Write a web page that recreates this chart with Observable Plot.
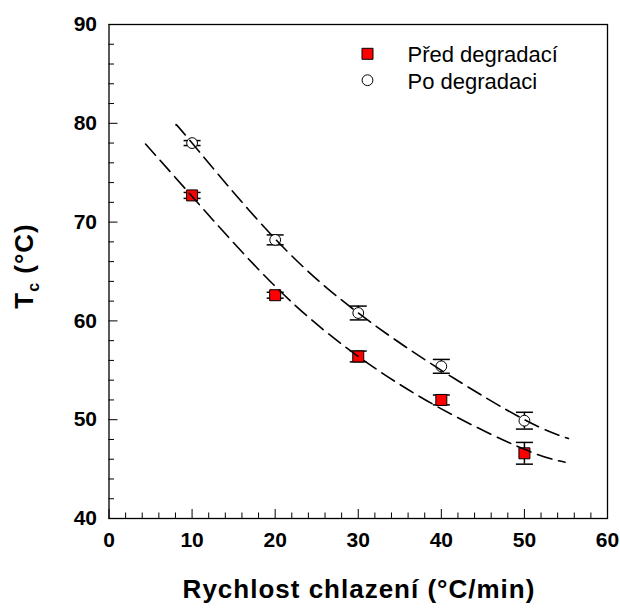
<!DOCTYPE html>
<html><head><meta charset="utf-8">
<script src="https://cdn.jsdelivr.net/npm/d3@7"></script>
<script src="https://cdn.jsdelivr.net/npm/@observablehq/plot@0.6"></script>
<style>body{margin:0;background:#fff} svg{display:block}</style>
</head><body><div id="chart"></div>
<script>
// Data
const seriesNames = ["Před degradací", "Po degradaci"];
const rates = [10, 20, 30, 40, 50];
const tcBefore = [72.7, 62.6, 56.4, 52.0, 46.6];
const errBefore = [0.3, 0.3, 0.55, 0.5, 1.1];
const tcAfter = [78.0, 68.2, 60.8, 55.4, 49.9];
const errAfter = [0.25, 0.5, 0.7, 0.7, 0.85];
const fitBeforeX = [4.4, 10, 20, 30, 40, 50, 54.9];
const fitBeforeY = [77.9, 72.6, 63.5, 56.4, 51.1, 47.0, 45.7];
const fitAfterX = [8.1, 10, 20, 30, 40, 50, 55.3];
const fitAfterY = [79.8, 78.0, 68.3, 60.8, 55.0, 50.0, 48.1];
const xMajor = [0, 10, 20, 30, 40, 50, 60];
const xMinor = [2, 4, 6, 8, 12, 14, 16, 18, 22, 24, 26, 28, 32, 34, 36, 38, 42, 44, 46, 48, 52, 54, 56, 58];
const yMajor = [40, 50, 60, 70, 80, 90];
const yMinor = [42, 44, 46, 48, 52, 54, 56, 58, 62, 64, 66, 68, 72, 74, 76, 78, 82, 84, 86, 88];
const xTitle = "Rychlost chlazení (°C/min)";

const before = rates.map((x, i) => ({x, y: tcBefore[i], e: errBefore[i]}));
const after = rates.map((x, i) => ({x, y: tcAfter[i], e: errAfter[i]}));
const fitBefore = fitBeforeX.map((x, i) => ({x, y: fitBeforeY[i]}));
const fitAfter = fitAfterX.map((x, i) => ({x, y: fitAfterY[i]}));

const capSymbol = {draw(ctx) { ctx.moveTo(-8.5, 0); ctx.lineTo(8.5, 0); }};
const font = "Liberation Sans, Arial, sans-serif";

function errorBars(data) {
  return [
    Plot.ruleX(data, {x: "x", y1: d => d.y - d.e, y2: d => d.y + d.e, stroke: "black", strokeWidth: 1.5}),
    Plot.dot(data, {x: "x", y: d => d.y - d.e, symbol: capSymbol, stroke: "black", strokeWidth: 1.5, fill: "none"}),
    Plot.dot(data, {x: "x", y: d => d.y + d.e, symbol: capSymbol, stroke: "black", strokeWidth: 1.5, fill: "none"})
  ];
}

const chart = Plot.plot({
  width: 620,
  height: 608,
  marginLeft: 108.5,
  marginRight: 13,
  marginTop: 24,
  marginBottom: 90,
  style: {fontFamily: font, background: "white", color: "black"},
  x: {domain: [0, 60], label: null},
  y: {domain: [40, 90], label: null},
  marks: [
    Plot.axisX(xMinor, {tickSize: -5.5, tickFormat: () => "", label: null}),
    Plot.axisX(xMajor, {tickSize: -9, tickPadding: 23, fontSize: 21, fontWeight: "bold", label: null, tickFormat: d => d}),
    Plot.axisY(yMinor, {tickSize: -5.5, tickFormat: () => "", label: null}),
    Plot.axisY(yMajor, {tickSize: -9, tickPadding: 21, fontSize: 21, fontWeight: "bold", label: null, tickFormat: d => d}),
    ...errorBars(before),
    ...errorBars(after),
    Plot.dot(before, {x: "x", y: "y", symbol: "square", r: 6.2, fill: "#ff0000", stroke: "black", strokeWidth: 1}),
    Plot.dot(after, {x: "x", y: "y", symbol: "circle", r: 5.4, fill: "white", stroke: "black", strokeWidth: 1}),
    Plot.line(fitBefore, {x: "x", y: "y", curve: "natural", stroke: "black", strokeWidth: 1.6, strokeDasharray: "15,7"}),
    Plot.line(fitAfter, {x: "x", y: "y", curve: "natural", stroke: "black", strokeWidth: 1.6, strokeDasharray: "15,7"}),
    // legend
    Plot.dot([seriesNames[0]], {frameAnchor: "top-left", dx: 258.5, dy: 29.3, symbol: "square", r: 6.2, fill: "#ff0000", stroke: "black", strokeWidth: 1}),
    Plot.dot([seriesNames[1]], {frameAnchor: "top-left", dx: 258.5, dy: 55.7, symbol: "circle", r: 5.4, fill: "white", stroke: "black", strokeWidth: 1}),
    Plot.text([seriesNames[0]], {frameAnchor: "top-left", dx: 298.5, dy: 30, text: d => d, textAnchor: "start", lineAnchor: "middle", fontSize: 22, fill: "black"}),
    Plot.text([seriesNames[1]], {frameAnchor: "top-left", dx: 298.5, dy: 57.3, text: d => d, textAnchor: "start", lineAnchor: "middle", fontSize: 22, fill: "black"}),
    Plot.frame({stroke: "black", strokeWidth: 1.3})
  ]
});

const svg = d3.select(chart);
svg.append("text")
  .attr("x", 359).attr("y", 598)
  .attr("text-anchor", "middle")
  .attr("font-family", font).attr("font-weight", "bold").attr("font-size", 26)
  .attr("letter-spacing", 1)
  .attr("fill", "black")
  .text(xTitle);

const yt = svg.append("text")
  .attr("transform", "translate(33,266) rotate(-90)")
  .attr("text-anchor", "middle")
  .attr("font-family", font).attr("font-weight", "bold").attr("font-size", 26)
  .attr("letter-spacing", 1)
  .attr("fill", "black");
yt.append("tspan").text("T");
yt.append("tspan").attr("font-size", 16).attr("dy", 6).text("c");
yt.append("tspan").attr("dy", -6).text(" (°C)");

document.getElementById("chart").appendChild(chart);
</script>
</body></html>
